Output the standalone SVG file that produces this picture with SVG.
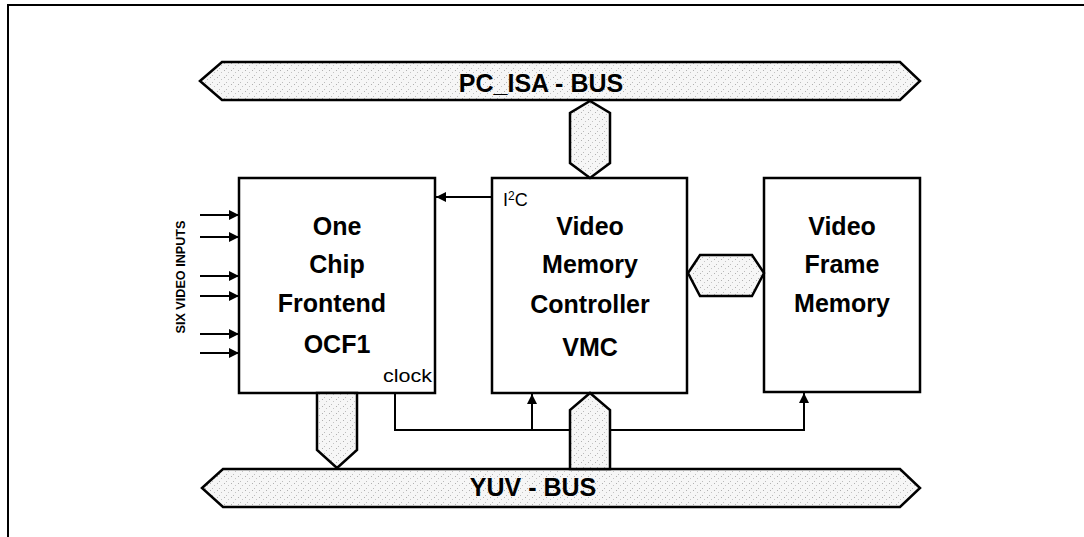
<svg xmlns="http://www.w3.org/2000/svg" width="1084" height="537" viewBox="0 0 1084 537">
<style>
.box{fill:#fff;stroke:#000;stroke-width:2.5}
.bus{fill:url(#stip);stroke:#000;stroke-width:2.5;stroke-linejoin:miter}
.ln{fill:none;stroke:#000;stroke-width:2}
.t{font-family:"Liberation Sans",Arial,sans-serif;font-weight:bold;font-size:25px;text-anchor:middle;fill:#000}
.s{font-family:"Liberation Sans",Arial,sans-serif;font-size:18px;fill:#000}
</style>
<defs>
<pattern id="stip" width="7" height="7" patternUnits="userSpaceOnUse">
<rect width="7" height="7" fill="#f6f6f6"/>
<rect x="0" y="0" width="1" height="1" fill="#b0b0b0"/>
<rect x="4" y="2" width="1" height="1" fill="#c4c4c4"/>
<rect x="2" y="5" width="1" height="1" fill="#bcbcbc"/>
</pattern>
<marker id="ah" viewBox="0 0 10 10" refX="10" refY="5" markerWidth="11" markerHeight="10" markerUnits="userSpaceOnUse" orient="auto">
<path d="M0,0 L10,5 L0,10 z" fill="#000"/>
</marker>
</defs>
<rect width="1084" height="537" fill="#fff"/>
<path class="ln" d="M8,537 L8,5 L1084,5" stroke-width="2.5"/>

<g id="pc-isa-bus">
<path class="bus" d="M200,81 L222,62 L900,62 L920,81 L900,100 L222,100 Z"/>
<text class="t" x="541" y="92">PC_ISA - BUS</text>
</g>

<g id="yuv-bus">
<path class="bus" d="M202,488 L223,469 L900,469 L920,488 L900,507 L223,507 Z"/>
<text class="t" x="533" y="496">YUV - BUS</text>
</g>

<g id="ocf1">
<rect class="box" x="239" y="178" width="196" height="215"/>
<text class="t" x="337" y="235">One</text>
<text class="t" x="337" y="273">Chip</text>
<text class="t" x="332" y="312">Frontend</text>
<text class="t" x="337" y="353">OCF1</text>
<text class="s" x="383" y="382" textLength="49" lengthAdjust="spacingAndGlyphs">clock</text>
</g>

<g id="vmc">
<rect class="box" x="492" y="178" width="195" height="215"/>
<text class="t" x="590" y="235">Video</text>
<text class="t" x="590" y="273">Memory</text>
<text class="t" x="590" y="313">Controller</text>
<text class="t" x="590" y="356">VMC</text>
<text class="s" x="503" y="206">I<tspan dy="-6" font-size="12">2</tspan><tspan dy="6">C</tspan></text>
</g>

<g id="vfm">
<rect class="box" x="764" y="178" width="156" height="214"/>
<text class="t" x="842" y="235">Video</text>
<text class="t" x="842" y="273">Frame</text>
<text class="t" x="842" y="312">Memory</text>
</g>

<g id="video-inputs">
<text font-family="Liberation Sans, Arial, sans-serif" font-weight="bold" font-size="13" text-anchor="middle" transform="translate(185,277) rotate(-90)" textLength="113" lengthAdjust="spacingAndGlyphs">SIX VIDEO INPUTS</text>
</g>

<g id="connectors">
<path class="bus" d="M570,163 L570,113 L590,101 L610,113 L610,163 L590,178 Z"/>
<path class="bus" d="M688,273 L700,255 L752,255 L764,273 L752,296 L700,296 Z"/>
<path class="bus" d="M317,393 L357,393 L357,450 L337,468 L317,450 Z"/>
<path class="bus" d="M570,469 L570,410 L590,393 L610,410 L610,469 Z"/>
<path class="ln" d="M492,197 L436,197" marker-end="url(#ah)"/>
<path class="ln" d="M200,215 L239,215" marker-end="url(#ah)"/>
<path class="ln" d="M200,237 L239,237" marker-end="url(#ah)"/>
<path class="ln" d="M200,276 L239,276" marker-end="url(#ah)"/>
<path class="ln" d="M200,296 L239,296" marker-end="url(#ah)"/>
<path class="ln" d="M200,334 L239,334" marker-end="url(#ah)"/>
<path class="ln" d="M200,353 L239,353" marker-end="url(#ah)"/>
<path class="ln" d="M395,393 L395,430 L570,430"/>
<path class="ln" d="M532,430 L532,394" marker-end="url(#ah)"/>
<path class="ln" d="M610,430 L804,430 L804,393" marker-end="url(#ah)"/>
</g>
</svg>
